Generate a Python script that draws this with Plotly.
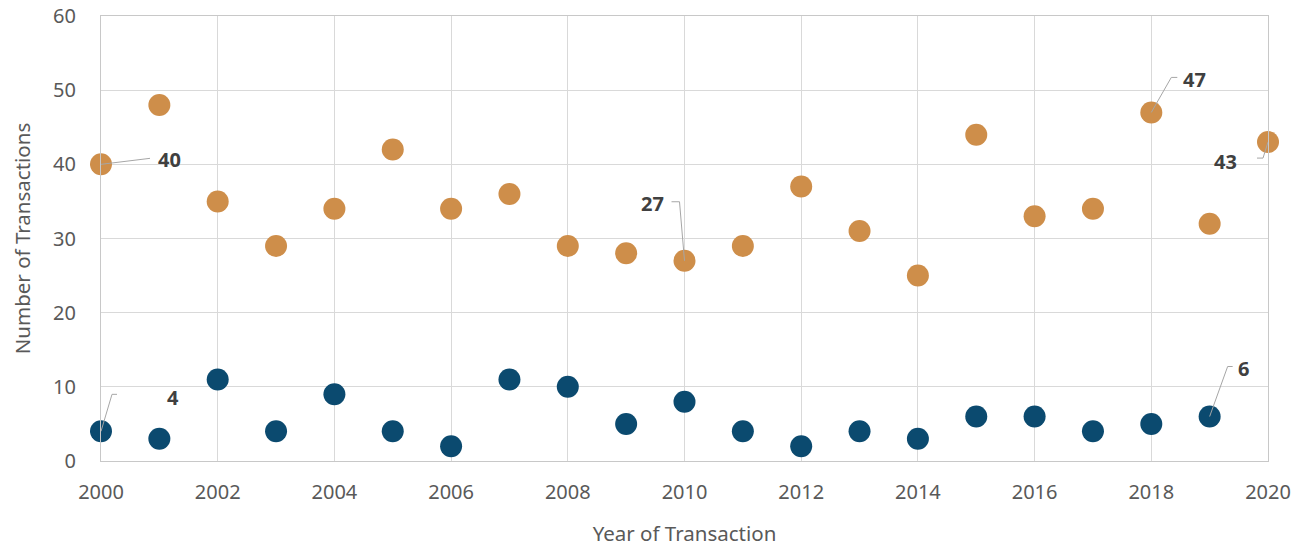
import plotly.graph_objects as go

years_orange = list(range(2000, 2021))
orange_vals = [40, 48, 35, 29, 34, 42, 34, 36, 29, 28, 27, 29, 37, 31, 25, 44, 33, 34, 47, 32, 43]
years_blue = list(range(2000, 2020))
blue_vals = [4, 3, 11, 4, 9, 4, 2, 11, 10, 5, 8, 4, 2, 4, 3, 6, 6, 4, 5, 6]

x_ticks = list(range(2000, 2021, 2))
y_ticks = list(range(0, 61, 10))

ORANGE = "#CE8E4A"
BLUE = "#0B4A6F"
FONT = "Noto Sans"

fig = go.Figure()
fig.add_trace(go.Scatter(x=years_orange, y=orange_vals, mode="markers",
                         marker=dict(color=ORANGE, size=22), cliponaxis=False,
                         showlegend=False, hoverinfo="x+y"))
fig.add_trace(go.Scatter(x=years_blue, y=blue_vals, mode="markers",
                         marker=dict(color=BLUE, size=22), cliponaxis=False,
                         showlegend=False, hoverinfo="x+y"))

# labelled points: (series years, series values, index, leader elbow (dx,dy), end dx, text shift)
labels = [
    (years_orange, orange_vals, 0, (49, 6), 49, (68, 5)),
    (years_blue, blue_vals, 0, (11, 37), 16, (72, 34)),
    (years_orange, orange_vals, 10, (-5, 59), -13, (-32, 57)),
    (years_orange, orange_vals, 18, (20, 35), 26, (43, 33)),
    (years_orange, orange_vals, 20, (-5, -16), -11, (-43, -19)),
    (years_blue, blue_vals, 19, (18, 50), 23, (34, 48)),
]
for xs, ys, i, (ex, ey), endx, (tx, ty) in labels:
    xv, yv = xs[i], ys[i]
    line = dict(color="#A6A6A6", width=1)
    fig.add_shape(type="line", xref="x", yref="y", xsizemode="pixel", ysizemode="pixel",
                  xanchor=xv, yanchor=yv, x0=0, y0=0, x1=ex, y1=ey, line=line, layer="above")
    fig.add_shape(type="line", xref="x", yref="y", xsizemode="pixel", ysizemode="pixel",
                  xanchor=xv, yanchor=yv, x0=ex, y0=ey, x1=endx, y1=ey, line=line, layer="above")
    fig.add_annotation(x=xv, y=yv, text=f"<b>{yv}</b>", showarrow=False,
                       xshift=tx, yshift=ty,
                       font=dict(family=FONT, size=20, color="#404040"))

fig.update_layout(
    width=1307, height=548,
    margin=dict(l=93, r=47, t=8, b=95),
    paper_bgcolor="white", plot_bgcolor="white",
    font=dict(family=FONT, size=20, color="#595959"),
    xaxis=dict(range=[2000, 2020], tickvals=x_ticks, showgrid=True, gridcolor="#D9D9D9",
               gridwidth=1, zeroline=False, showline=True, linecolor="#C8C8C8", mirror=True,
               ticks="", tickfont=dict(size=20, color="#595959"), automargin=False,
               ticklabelstandoff=13, ticklabeloverflow="allow",
               title=dict(text="Year of Transaction", font=dict(size=20.5, color="#595959"), standoff=22)),
    yaxis=dict(range=[0, 60], tickvals=y_ticks, showgrid=True, gridcolor="#D9D9D9",
               gridwidth=1, zeroline=False, showline=True, linecolor="#C8C8C8", mirror=True,
               ticks="", tickfont=dict(size=20, color="#595959"), automargin=False,
               ticklabelstandoff=20, ticklabeloverflow="allow",
               title=dict(text="Number of Transactions", font=dict(size=20.5, color="#595959"), standoff=29)),
)
fig.write_html("out.html")
